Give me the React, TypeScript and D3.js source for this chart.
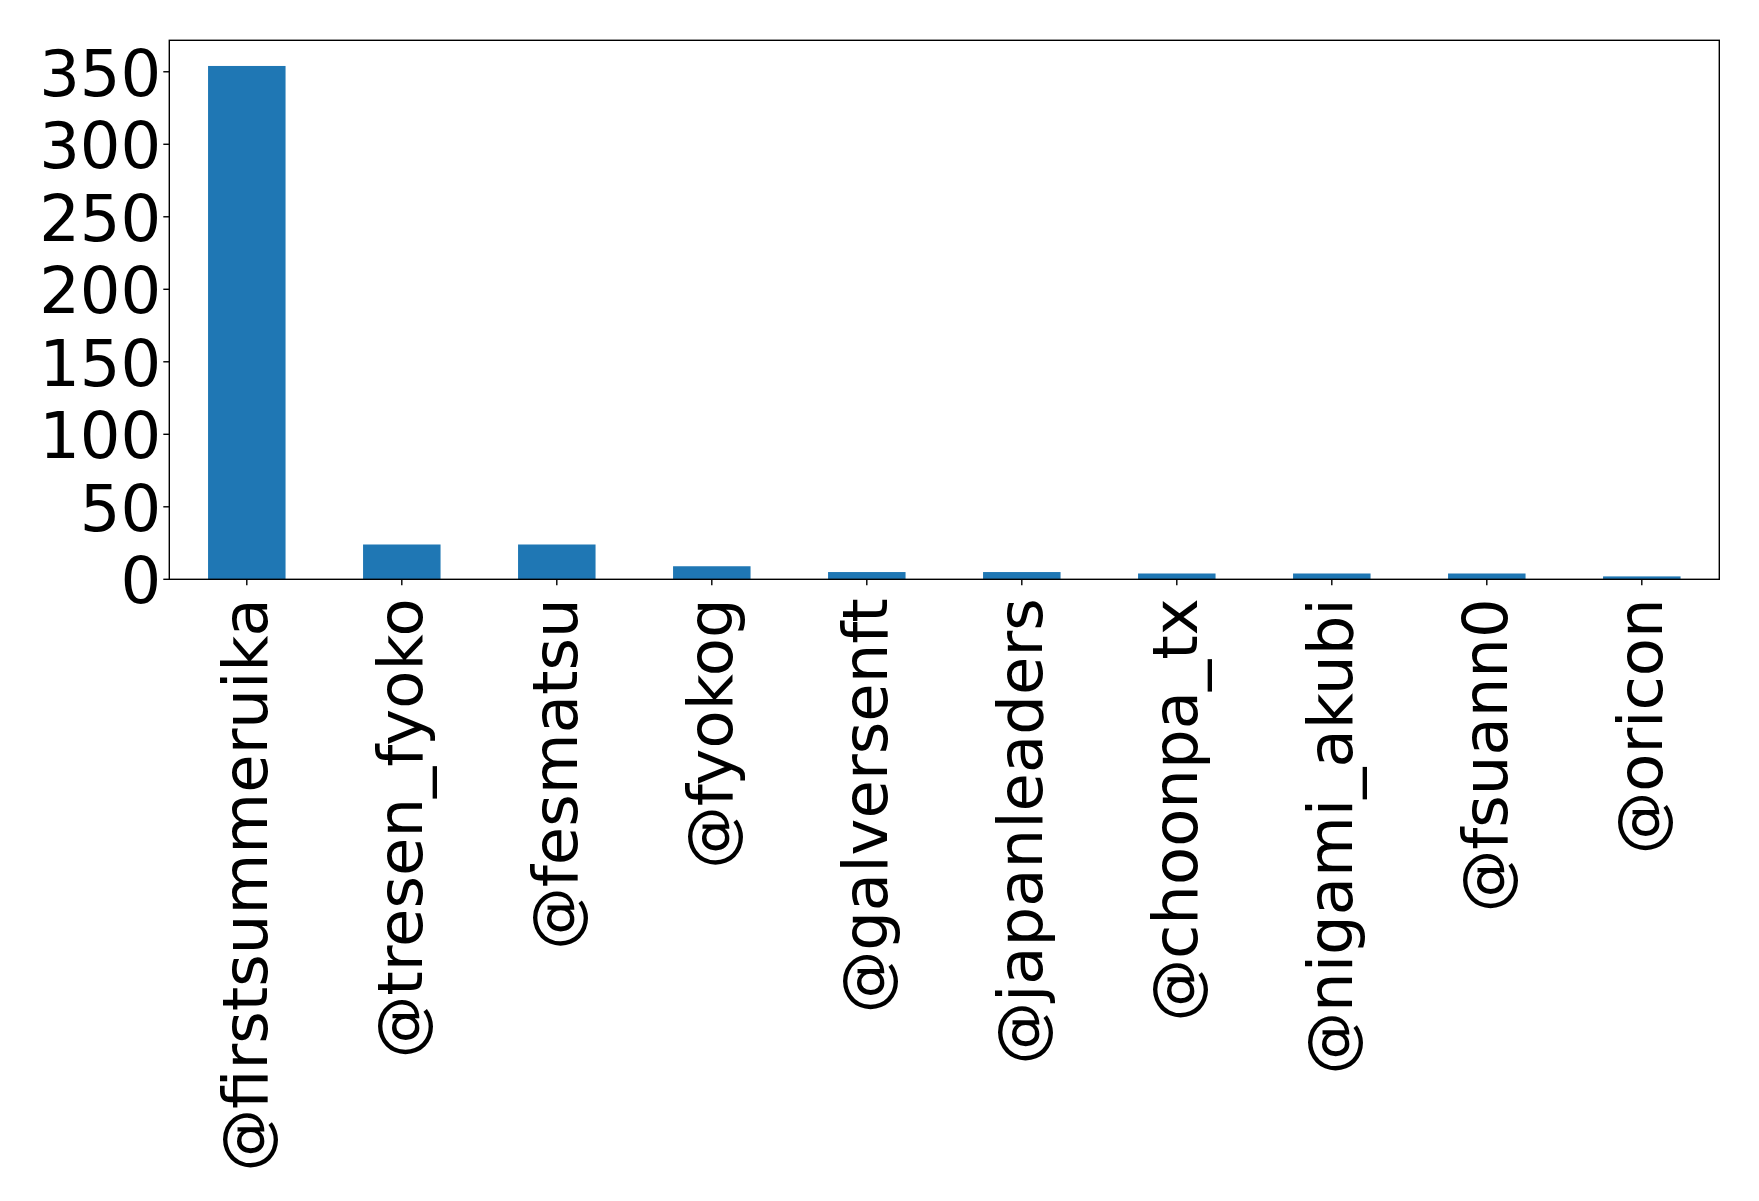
import React, { useEffect, useRef } from 'react';
import * as d3 from 'd3';

const accounts = [
  '@firstsummeruika',
  '@tresen_fyoko',
  '@fesmatsu',
  '@fyokog',
  '@galversenft',
  '@japanleaders',
  '@choonpa_tx',
  '@nigami_akubi',
  '@fsuann0',
  '@oricon',
];
const counts = [354, 24, 24, 9, 5, 5, 4, 4, 4, 2];
const yTicks = [0, 50, 100, 150, 200, 250, 300, 350];

const App: React.FC = () => {
  const ref = useRef<SVGSVGElement | null>(null);

  useEffect(() => {
    if (!ref.current) return;
    const svg = d3.select(ref.current);
    svg.selectAll('*').remove();

    const width = 1759;
    const height = 1201;
    const margin = { top: 40.3, right: 1759 - 1719.3, bottom: 1201 - 579.3, left: 169.3 };
    const font = '"DejaVu Sans", sans-serif';

    svg.attr('width', width).attr('height', height);
    svg.append('rect').attr('width', width).attr('height', height).attr('fill', '#fff');

    const x = d3.scaleBand<string>()
      .domain(accounts)
      .range([margin.left, width - margin.right])
      .paddingInner(0.5)
      .paddingOuter(0.25);

    const yMax = d3.max(counts) as number;
    const y = d3.scaleLinear()
      .domain([0, yMax * 1.05])
      .range([height - margin.bottom, margin.top]);

    // bars
    svg.append('g')
      .selectAll('rect')
      .data(accounts)
      .enter()
      .append('rect')
      .attr('x', (d) => x(d) as number)
      .attr('y', (d, i) => y(counts[i]))
      .attr('width', x.bandwidth())
      .attr('height', (d, i) => y(0) - y(counts[i]))
      .attr('fill', '#1f77b4');

    // frame
    svg.append('rect')
      .attr('x', margin.left)
      .attr('y', margin.top)
      .attr('width', width - margin.right - margin.left)
      .attr('height', height - margin.bottom - margin.top)
      .attr('fill', 'none')
      .attr('stroke', '#000')
      .attr('stroke-width', 1.4);

    const tickLen = 6;

    // y axis
    const yg = svg.append('g');
    yTicks.forEach((t) => {
      yg.append('line')
        .attr('x1', margin.left - tickLen)
        .attr('x2', margin.left)
        .attr('y1', y(t))
        .attr('y2', y(t))
        .attr('stroke', '#000')
        .attr('stroke-width', 1.4);
      yg.append('text')
        .attr('x', margin.left - 8)
        .attr('y', y(t) + 24)
        .attr('text-anchor', 'end')
        .style('font-family', font)
        .style('font-size', '64px')
        .attr('fill', '#000')
        .text(t);
    });

    // x axis
    const xg = svg.append('g');
    const y0 = y(0);
    accounts.forEach((a) => {
      const cx = (x(a) as number) + x.bandwidth() / 2;
      xg.append('line')
        .attr('x1', cx)
        .attr('x2', cx)
        .attr('y1', y0)
        .attr('y2', y0 + tickLen)
        .attr('stroke', '#000')
        .attr('stroke-width', 1.4);
      xg.append('text')
        .attr('transform', `translate(${cx + 20},${y0 + 19}) rotate(-90)`)
        .attr('text-anchor', 'end')
        .style('font-family', font)
        .style('font-size', '62.5px')
        .attr('fill', '#000')
        .text(a);
    });
  }, []);

  return (
    <div style={{ position: 'absolute', left: 0, top: 0 }}>
      <svg ref={ref} style={{ display: 'block' }}></svg>
    </div>
  );
};

export default App;
